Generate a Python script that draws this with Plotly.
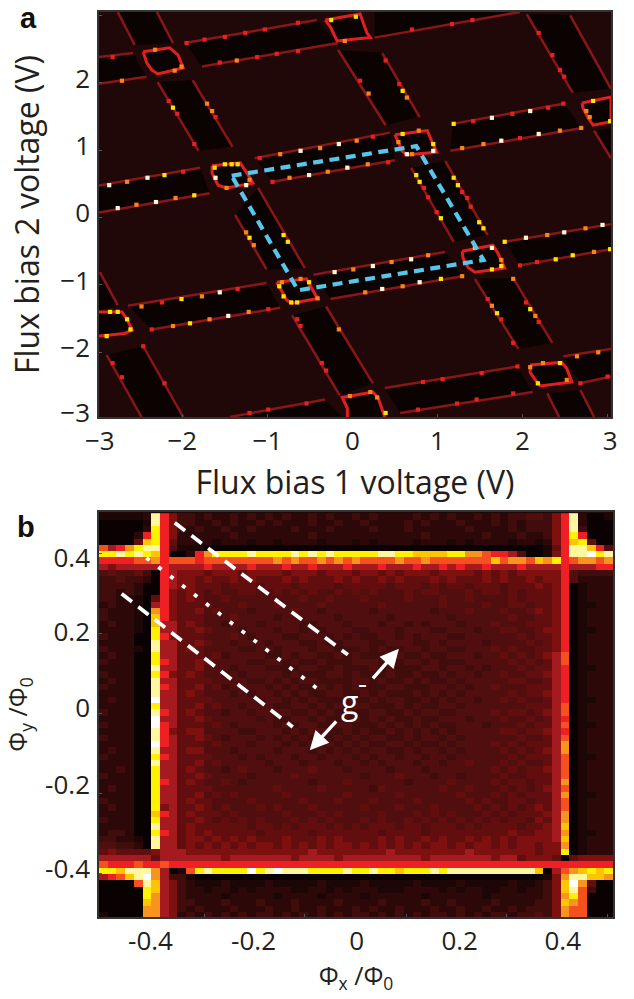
import plotly.graph_objects as go

# ---------- panel a: measured transition lines, in volts ----------
# each band: side A (x1,y1,x2,y2) and side B (x3,y3,x4,y4)
BANDS_A = [
    [-3.0, 2.38, -2.58, 2.44, -3.0, 1.98, -2.42, 2.09],
    [-1.97, 2.59, -0.42, 2.93, -1.77, 2.24, -0.17, 2.59],
    [-3.0, 0.47, -1.79, 0.74, -3.0, 0.07, -1.68, 0.36],
    [-1.15, 0.88, 0.44, 1.26, -0.94, 0.53, 0.5, 0.85],
    [1.18, 1.39, 2.48, 1.69, 1.15, 0.99, 2.7, 1.33],
    [-2.64, -1.31, -1.01, -0.97, -2.36, -1.66, -0.85, -1.34],
    [-0.46, -0.85, 1.09, -0.51, -0.26, -1.21, 1.29, -0.87],
    [1.79, -0.36, 3.04, -0.10, 1.97, -0.71, 3.04, -0.47],
    [0.38, -2.53, 1.94, -2.21, 0.56, -2.90, 2.12, -2.59],
    [2.48, -2.06, 3.04, -1.95, 2.68, -2.46, 3.04, -2.36],
    [-2.76, 3.05, -2.56, 2.56, -2.3, 3.05, -2.11, 2.59],
    [-2.29, 2.01, -1.81, 0.99, -1.88, 2.04, -1.41, 1.05],
    [-1.38, 0.04, -1.01, -0.77, -1.11, 0.44, -0.56, -0.75],
    [-0.71, -1.45, -0.15, -2.64, -0.31, -1.32, 0.24, -2.46],
    [-2.89, -2.04, -2.48, -2.96, -2.46, -1.91, -1.99, -2.96],
    [-0.17, 2.49, 0.39, 1.37, 0.35, 2.44, 0.79, 1.49],
    [0.69, 0.74, 1.19, -0.36, 1.09, 0.84, 1.59, -0.26],
    [1.44, -0.91, 1.95, -1.95, 1.89, -0.9, 2.35, -1.86],
    [2.29, -2.61, 2.43, -2.96, 2.68, -2.56, 2.84, -2.96],
    [2.05, 3.02, 2.59, 1.85, 2.56, 3.0, 3.04, 1.91],
]
# bands with one measured side; the other side runs off the plot
EDGE_BANDS_A = [
    [0.26, 2.67, 1.97, 3.05, 0.26, 3.05, 1.97, 3.05],
    [-1.44, -2.96, -0.32, -2.70, -0.12, -2.96, -0.12, -2.96],
    [2.84, 1.29, 3.04, 0.88, 3.04, 1.32, 3.04, 1.32],
    [-2.97, -0.81, -2.76, -1.3, -2.98, -1.38, -2.98, -1.38],
]
LOOPS_A = [
    [(-2.46, 2.46), (-2.15, 2.52), (-2.05, 2.41), (-1.99, 2.22), (-2.29, 2.13), (-2.36, 2.19), (-2.42, 2.30), (-2.46, 2.46)],
    [(-0.32, 2.93), (0.09, 3.02), (0.17, 2.74), (0.21, 2.67), (-0.18, 2.62), (-0.26, 2.83), (-0.32, 2.93)],
    [(-1.65, 0.77), (-1.32, 0.81), (-1.21, 0.6), (-1.17, 0.51), (-1.48, 0.44), (-1.58, 0.48), (-1.65, 0.66), (-1.65, 0.77)],
    [(0.5, 1.23), (0.88, 1.29), (0.94, 1.11), (0.99, 0.97), (0.64, 0.93), (0.58, 0.99), (0.54, 1.12), (0.5, 1.23)],
    [(2.7, 1.7), (3.04, 1.79), (3.04, 1.42), (2.83, 1.37), (2.77, 1.48), (2.71, 1.63), (2.7, 1.7)],
    [(-3.0, -1.4), (-2.71, -1.4), (-2.65, -1.51), (-2.59, -1.67), (-2.68, -1.72), (-3.0, -1.76)],
    [(-0.89, -0.96), (-0.54, -0.91), (-0.48, -1.05), (-0.41, -1.2), (-0.71, -1.27), (-0.77, -1.23), (-0.85, -1.05), (-0.89, -0.96)],
    [(1.29, -0.5), (1.65, -0.41), (1.71, -0.53), (1.79, -0.75), (1.44, -0.81), (1.36, -0.74), (1.3, -0.6), (1.29, -0.5)],
    [(2.09, -2.19), (2.46, -2.15), (2.52, -2.24), (2.58, -2.44), (2.21, -2.5), (2.15, -2.41), (2.09, -2.3), (2.09, -2.19)],
    [(-0.06, -2.96), (-0.06, -2.83), (-0.12, -2.67), (0.24, -2.59), (0.3, -2.67), (0.38, -2.96)],
]
WHITE_A = [(-2.86, 0.48), (-2.41, 0.59), (-2.76, 0.14), (-2.31, 0.23), (-1.61, 0.59), (-1.25, 0.48), (-0.61, 0.99),
           (-0.16, 1.09), (-0.51, 0.63), (-0.06, 0.74), (0.64, 0.94), (0.95, 0.99), (1.64, 1.48), (2.09, 1.58),
           (2.19, 1.24), (1.75, 1.14), (-1.56, -1.11), (-1.46, -1.46), (-0.21, -0.81), (0.24, -0.72), (0.69, -0.62),
           (0.35, -1.06), (0.79, -0.96), (1.64, -0.45), (2.49, -0.22), (2.04, -0.30), (2.94, -0.11)]
YELLOW_A = [(-1.5, 0.79), (-1.42, 0.79), (-1.35, 0.79), (-2.21, 0.63), (-1.86, 0.33), (-2.11, 1.63), (-0.25, 2.93),
            (0.04, 2.98), (-1.62, 0.74), (0.95, 1.09), (0.59, 1.24), (1.19, 1.39), (0.59, 1.88), (0.75, 0.63),
            (0.79, 0.53), (1.04, -0.01), (1.19, 0.59), (1.24, 0.48), (1.49, -0.07), (1.54, -0.16), (2.83, 1.73),
            (3.03, 1.43), (-2.01, -1.21), (-1.91, -1.57), (-1.21, -0.30), (-0.81, -0.26), (-0.76, -0.36), (-0.51, -0.96),
            (-0.86, -1.02), (-0.81, -1.17), (-0.65, -1.26), (-0.72, -1.26), (-2.85, -1.40), (-2.76, -1.40), (-2.65, -1.51),
            (-2.61, -1.66), (-2.89, -1.76), (1.04, -0.91), (1.79, -0.36), (2.39, -0.62), (2.59, -0.56), (3.03, -0.47),
            (1.44, -0.45), (1.64, -0.77), (1.75, -0.72), (2.09, -1.36), (1.70, -1.42), (2.18, -2.46), (2.44, -2.16), (0.39, -2.90)]
ORANGE_A = [(-2.71, 2.03), (-2.65, 0.53), (-2.54, 0.19), (-2.08, 0.29), (-1.71, 1.69), (-1.65, 1.58), (-2.01, 2.24),
            (-2.32, 2.49), (-2.09, 2.18), (-0.85, 0.94), (-0.38, 1.03), (-0.29, 0.68), (-0.74, 0.59), (-1.36, 2.33),
            (-0.09, 2.62), (-1.48, 0.44), (-1.21, 0.56), (0.05, 1.14), (0.18, 0.79), (0.19, 1.84), (0.64, 1.78),
            (1.54, 1.09), (1.29, 1.03), (2.44, 1.29), (2.69, 1.33), (2.75, 1.58), (2.79, 1.49), (0.54, 1.12), (0.70, 0.94),
            (0.78, 1.29), (-1.77, -1.17), (-2.48, -1.32), (-2.11, -1.61), (-1.68, -1.51), (-1.22, -1.40), (-1.25, -0.22),
            (-1.16, -0.41), (-0.16, -1.66), (0.01, -0.77), (-0.83, -0.96), (-0.61, -0.91), (-0.41, -1.20), (0.89, -0.56),
            (0.46, -0.66), (0.59, -1.02), (0.15, -1.11), (2.84, -0.51), (2.74, -0.16), (2.29, -0.26), (2.64, -2.06),
            (2.89, -2.00), (1.89, -0.91), (2.15, -1.46), (1.64, -1.31), (1.29, -0.87), (1.75, -0.63), (2.24, -2.16),
            (2.09, -2.22), (2.52, -2.41), (0.21, -2.59), (-0.03, -2.65), (0.29, -2.67)]
RED_A = [(-1.99, 0.68), (-1.5, 2.68), (-1.03, 2.79), (-1.26, 2.74), (-1.74, 2.64), (-1.95, 2.59), (-0.64, 2.89), (-1.56, 2.3),
         (-1.12, 2.38), (-0.89, 2.43), (-0.64, 2.47), (-2.16, 1.73), (-2.06, 1.54), (-1.86, 1.09), (-1.61, 1.49), (-1.09, 0.88),
         (-0.94, 0.53), (-2.82, 2.38), (0.7, 2.79), (1.17, 2.87), (1.41, 2.93), (0.24, 1.2), (0.42, 0.82), (1.88, 1.54),
         (1.42, 1.43), (2.3, 1.63), (2.48, 1.69), (1.97, 1.18), (2.19, 2.74), (2.35, 2.41), (2.44, 2.19), (2.49, 2.09),
         (0.39, 2.33), (0.09, 2.03), (0.55, 1.98), (0.89, 0.3), (0.84, 0.44), (1.35, 0.29), (1.39, 0.16), (0.99, 0.08),
         (1.29, 0.38), (-2.24, -1.26), (-1.35, -1.06), (-0.99, -1.36), (-2.36, -1.66), (-2.82, -2.16), (-2.71, -2.37),
         (-2.46, -1.91), (-2.21, -2.46), (-0.36, -2.16), (-0.31, -2.27), (-0.65, -1.51), (-0.61, -1.61), (-1.21, -2.9),
         (-0.99, -2.85), (-0.54, -2.76), (0.83, -2.44), (1.06, -2.40), (1.52, -2.31), (1.94, -2.21), (0.77, -2.85),
         (1.23, -2.76), (1.46, -2.7), (1.89, -2.61), (1.59, -1.21), (1.75, -1.51), (1.89, -1.86), (2.04, -1.26),
         (2.19, -1.55), (2.17, -0.66), (1.97, -0.71), (3.0, -2.36), (2.68, -2.46)]
PATH_A = [(-1.42, 0.62), (0.75, 1.06), (1.54, -0.63), (-0.64, -1.08), (-1.42, 0.62)]

# ---------- panel b: colour level of every cell (hex digit 0-e) ----------
LEFT_B = ["111112d863", "000001d863", "000002c863", "000028c862", "00005bc852", "978acdd841", "ccdcdcb800", "888899a899",
          "7677777877", "4544530876", "3343320876", "3333200876", "3323200865", "3322105865", "2322107865", "322210a865",
          "322210b865", "232210b775", "222210c775", "322200c865", "222200d775", "322210d775", "232200c775", "322200c875",
          "222200d775", "322200c865", "232200d775", "322200d875", "222200d775", "232200e775", "222200c775", "322200d875",
          "222200e775", "322200e875", "222200d865", "322200d875", "222200e875", "232200d775", "322200c875", "222200d775",
          "223200c775", "322200c775", "222200c875", "232200c775", "222200c775", "322200c775", "232200c675", "222200b875",
          "322200c775", "222200d775", "233200c875", "332210d775", "443320d775", "5655556777", "7777775777", "9888988988",
          "ccbddda701", "789bdea733", "00009db763", "00000cb763", "00000ca763", "00000ba763", "00000aa763", "10000aa762"]
MID_B = [
    "3232232323 2322323223 2322223232 3223232334 43", "3223232232 3222322322 3222232322 2322232323 33",
    "2322322322 2232223222 2322232222 2232222323 33", "2222232222 2222322222 2222222322 2222322232 23",
    "2221222122 1222212221 2122221222 1212222122 12", "1100000000 0000000000 0000000000 0000000000 01",
    "28accccdcc ccdcdcdccc ccddccbbbb ccaa988740 01", "9899999999 a9a99a9a9a 9999a99a99 99999b9aa9 ba",
    "7787777877 7877877787 7787778778 7877877787 77", "6656665666 6566656665 6656566656 6665656566 66",
    "6565565655 5656555656 5565655565 6555656556 56", "6555455545 5545555455 5554555454 5545554555 65",
    "6545445544 5454544545 4544454554 4454554545 55", "6544544444 4445445444 5444454445 4454444545 55",
    "5554445444 5444454444 4454444445 4444544554 55", "5645444344 4454434444 4344444434 4454445445 65",
    "5544454444 3444444344 4443444444 3444444544 55", "6544344434 4443344434 4434434344 4344454445 55",
    "5654443444 3443434443 3444344433 4443445544 56", "5544454344 4334443434 3344343444 3344444454 55",
    "5654434443 4443343344 4334443343 4444344445 45", "6544443344 3444344333 4343344344 3344454544 55",
    "5545344443 3434433434 3334433433 4443445454 56", "5654444334 4343343334 4433344343 3344444545 45",
    "5644434443 3334433433 3434333443 4434344454 55", "6544343444 4343334434 3334334334 3443445445 56",
    "5554444334 3434433334 4343343433 4344444554 45", "5645344443 4343343434 3334433344 3434454445 55",
    "6544434344 3434334433 4343334343 4344444545 56", "5554444434 4343433343 3434433434 3443445454 45",
    "5645443444 3344343434 4333434334 4344444445 55", "6544344344 4433434343 3443343443 3444454554 56",
    "5654444434 3344343334 3434334334 4434445445 45", "5545434444 3434433443 3343434343 3444344454 55",
    "6644443344 4343443343 4334343434 3444445545 56", "5654344434 3434343434 3443343443 4344444454 45",
    "5545444344 4343434343 4334434334 3444454545 55", "6644434444 3444343434 3443343443 4344445454 56",
    "5554443434 4434434443 4344344344 3444444545 55", "5645444443 4443444344 3434443443 4454445454 45",
    "6544345444 3444544434 4443444344 4444454545 56", "5654444344 4454444444 3444544434 4344445445 55",
    "6544543444 4444344454 4444434444 5444454554 55", "5554444444 5444454444 4354444445 4454445454 56",
    "5645454444 4544444454 4444544444 4544454545 55", "6554444544 4445444544 4544445444 4454544554 55",
    "5654544454 5444544444 5444544454 4445454545 65", "6555454444 4544454544 4454445454 5444545455 56",
    "5654545454 4454545444 5454454545 4545454554 65", "6555555455 4545554545 4555455455 5454555545 56",
    "6565555545 5555455555 5545555455 5555555655 66", "6656565655 5655565655 5565655656 5565656566 66",
    "6565656566 5656565665 6565656566 5656656566 56", "6666666666 6666766666 6667666666 6676666666 56",
    "7777677777 7767777677 7777777677 7777767756 66", "8888888888 8888888888 8888888888 8888888888 88",
    "9cdccccecd edddccccdc cdccbcccdc dddddddddd b0", "1000000000 0000000000 0000000000 0000000000 01",
    "2111211112 1111121111 2111112111 1211111211 23", "2212212122 2211221212 2211122221 2122112212 23",
    "2222122222 1222212222 1222222122 2222122222 23", "3222322232 2232222322 2232222322 3222232222 33",
    "2322232223 2232232223 2322322232 2322322323 33", "3232323233 2323232323 3232323233 2323233233 43",
]
RIGHT_B = ["68d2001", "68d2000", "68d3000", "68c8000", "68bc500", "58ddb84", "68ddecd", "c89aa9a", "7877788", "6843333", "6842222",
           "6801222", "6801222", "6801222", "6801122", "6801222", "6801222", "6801222", "6801122", "6801222", "6801222", "6801222",
           "7901222", "7901222", "7801122", "7801222", "7801222", "7801222", "7801222", "7801122", "7901222", "7901222", "7801222",
           "7901122", "7801222", "7901222", "7a01222", "7a01222", "7901122", "7901222", "7901222", "7901222", "7a01222", "7901222",
           "7a01122", "7901222", "7901222", "7a01222", "7a01222", "7b01222", "7a01122", "7b01222", "6a01222", "6c01222",
           "5056666", "8888888", "79abcbc", "6addbba", "6bea500", "6bd9300", "6ac9000", "6ba9000", "6a99000", "6a99000"]
LEVEL_COLORS = ["#0a0202", "#1c0606", "#2c0808", "#400c0c", "#500e0e", "#630e0e", "#7e1010", "#a51a1e",
                "#ee2024", "#f4511e", "#f7941d", "#fdc400", "#fff200", "#fff7a0", "#ffffff"]
DASH1_B = [(-0.353, 0.478), (-0.017, 0.147)]
DOTS_B = [(-0.408, 0.390), (-0.076, 0.062)]
DASH2_B = [(-0.456, 0.300), (-0.124, -0.034)]
ARROW_UP_B = [(0.029, 0.084), (0.082, 0.162)]
ARROW_DOWN_B = [(-0.037, -0.016), (-0.091, -0.092)]

# ---------- tick labels and tick marks ----------
X_TICKS_A = [-2.97, -2, -1, 0, 1, 2, 3.03]
X_TEXT_A = ["−3", "−2", "−1", "0", "1", "2", "3"]
Y_TICKS_A = [3.02, 2.06, 1.06, 0.07, -0.94, -1.94, -2.90]
Y_TEXT_A = ["3", "2", "1", "0", "−1", "−2", "−3"]
X_TICKS_B = [-0.4, -0.2, 0, 0.2, 0.4]
X_TEXT_B = ["-0.4", "-0.2", "0", "0.2", "0.4"]
Y_TICKS_B = [0.39, 0.204, 0.014, -0.179, -0.39]
Y_TEXT_B = ["0.4", "0.2", "0", "-0.2", "-0.4"]
X_MARKS_A = [-2, -1, 1, 2, 3]
Y_MARKS_A = [3, 2, 1, 0, -1, -2]
X_MARKS_B = [-0.295, -0.101, 0.097, 0.291, 0.487]
Y_MARKS_B = [0.4, 0.2, 0, -0.2, -0.4]

W, H = 634, 999
FONT = "Open Sans"
TXT = "#231f20"
BG_A = "#1f0807"
BLACK_A = "#0b0302"

fig = go.Figure()

# band fills
fx, fy = [], []
for b in BANDS_A + EDGE_BANDS_A:
    fx += [b[0], b[2], b[6], b[4], b[0], None]
    fy += [b[1], b[3], b[7], b[5], b[1], None]
for loop in LOOPS_A:
    fx += [p[0] for p in loop] + [loop[0][0], None]
    fy += [p[1] for p in loop] + [loop[0][1], None]
fig.add_trace(go.Scatter(x=fx, y=fy, mode="lines", fill="toself", fillcolor=BLACK_A, line=dict(width=0),
                         hoverinfo="skip", showlegend=False, xaxis="x", yaxis="y"))
# band edges
lx, ly = [], []
for b in BANDS_A:
    lx += [b[0], b[2], None, b[4], b[6], None]
    ly += [b[1], b[3], None, b[5], b[7], None]
for b in EDGE_BANDS_A:
    lx += [b[0], b[2], None]
    ly += [b[1], b[3], None]
fig.add_trace(go.Scatter(x=lx, y=ly, mode="lines", line=dict(color="#8a1618", width=2.5),
                         hoverinfo="skip", showlegend=False, xaxis="x", yaxis="y"))
# loops
cx, cy = [], []
for loop in LOOPS_A:
    cx += [p[0] for p in loop] + [None]
    cy += [p[1] for p in loop] + [None]
fig.add_trace(go.Scatter(x=cx, y=cy, mode="lines", line=dict(color="#e0201f", width=3),
                         hoverinfo="skip", showlegend=False, xaxis="x", yaxis="y"))
# bright cells
for pts, col in ((RED_A, "#e8201f"), (ORANGE_A, "#f7841d"), (YELLOW_A, "#ffe600"), (WHITE_A, "#fff9d8")):
    fig.add_trace(go.Scatter(x=[p[0] for p in pts], y=[p[1] for p in pts], mode="markers",
                             marker=dict(symbol="square", size=4.2, color=col, line=dict(width=0)),
                             hoverinfo="skip", showlegend=False, xaxis="x", yaxis="y"))
fig.add_trace(go.Scatter(x=[p[0] for p in PATH_A], y=[p[1] for p in PATH_A], mode="lines",
                         line=dict(color="#58c6ea", width=4.2, dash="10px,6.5px"),
                         hoverinfo="skip", showlegend=False, xaxis="x", yaxis="y"))

# panel b
HEX = "0123456789abcde"
z_b = []
for l, m, r in zip(LEFT_B, MID_B, RIGHT_B):
    row = l + m.replace(" ", "") + r
    z_b.append([HEX.index(c) for c in row])
N_ROWS, N_COLS = len(z_b), len(z_b[0])
XR_B = [-0.5, 0.4975]
YR_B = [-0.510, 0.505]
dx = (XR_B[1] - XR_B[0]) / N_COLS
dy = (YR_B[1] - YR_B[0]) / N_ROWS
scale = [[i / 14, c] for i, c in enumerate(LEVEL_COLORS)]
fig.add_trace(go.Heatmap(z=z_b, x0=XR_B[0] + dx / 2, dx=dx, y0=YR_B[1] - dy / 2 - 0.003, dy=-dy,
                         zmin=0, zmax=14, colorscale=scale, showscale=False, hoverinfo="skip",
                         xaxis="x2", yaxis="y2"))
for pts, dash, w in ((DASH1_B, "13px,8px", 3.8), (DASH2_B, "13px,8px", 3.8), (DOTS_B, "4px,11px", 3.8)):
    fig.add_trace(go.Scatter(x=[p[0] for p in pts], y=[p[1] for p in pts], mode="lines",
                             line=dict(color="white", width=w, dash=dash),
                             hoverinfo="skip", showlegend=False, xaxis="x2", yaxis="y2"))

for pts in (ARROW_UP_B, ARROW_DOWN_B):
    fig.add_annotation(x=pts[1][0], y=pts[1][1], ax=pts[0][0], ay=pts[0][1], xref="x2", yref="y2", axref="x2", ayref="y2",
                       text="", showarrow=True, arrowhead=2, arrowsize=1.1, arrowwidth=3.4, arrowcolor="white")
fig.add_annotation(x=-0.014, y=0.03, xref="x2", yref="y2", text="g", showarrow=False,
                   font=dict(family=FONT, size=32, color="white"))
fig.add_annotation(x=0.012, y=0.078, xref="x2", yref="y2", text="-", showarrow=False,
                   font=dict(family=FONT, size=28, color="white"))
for txt, px, py in (("a", 28, 18), ("b", 26, 527)):
    fig.add_annotation(x=px / W, y=1 - py / H, xref="paper", yref="paper", xanchor="center", yanchor="middle",
                       text=f"<b>{txt}</b>", showarrow=False, font=dict(family="Liberation Sans", size=29, color="#111111"))

tickfont = dict(family=FONT, size=26, color=TXT)
titlefont = dict(family=FONT, size=32, color=TXT)
phifont = dict(family=FONT, size=25, color=TXT)
frame = dict(showline=True, linecolor="#333333", linewidth=1.5, mirror=True, showgrid=False, zeroline=False,
             ticks="", tickmode="array", tickfont=tickfont, automargin=False)


def marks(vals):
    return dict(tickmode="array", tickvals=vals, ticks="inside", ticklen=3, tickwidth=1, tickcolor="#555555", showgrid=False)


fig.update_layout(
    width=W, height=H, margin=dict(l=0, r=0, t=0, b=0), paper_bgcolor="white", plot_bgcolor=BG_A, showlegend=False,
    xaxis=dict(domain=[99 / W, 611 / W], range=[-2.98, 3.04], tickvals=X_TICKS_A, ticktext=X_TEXT_A, anchor="y",
               minor=marks(X_MARKS_A), title=dict(text="Flux bias 1 voltage (V)", font=titlefont), **frame),
    yaxis=dict(domain=[1 - 417 / H, 1 - 12 / H], range=[-2.96, 3.05], tickvals=Y_TICKS_A, ticktext=Y_TEXT_A, anchor="x",
               minor=marks(Y_MARKS_A), ticklabelstandoff=2,
               title=dict(text="Flux bias 2 voltage (V)", font=titlefont, standoff=11), **frame),
    xaxis2=dict(domain=[99 / W, 613 / W], range=XR_B, tickvals=X_TICKS_B, ticktext=X_TEXT_B, anchor="y2",
                minor=marks(X_MARKS_B), title=dict(text="Φ<sub>x</sub> /Φ<sub>0</sub>", font=phifont, standoff=10), **frame),
    yaxis2=dict(domain=[1 - 917 / H, 1 - 512 / H], range=YR_B, tickvals=Y_TICKS_B, ticktext=Y_TEXT_B, anchor="x2",
                minor=marks(Y_MARKS_B), ticklabelstandoff=2,
                title=dict(text="Φ<sub>y</sub> /Φ<sub>0</sub>", font=phifont, standoff=10), **frame),
)
fig.write_html("out.html", config=dict(displayModeBar=False), post_script="document.body.style.margin='0';")
